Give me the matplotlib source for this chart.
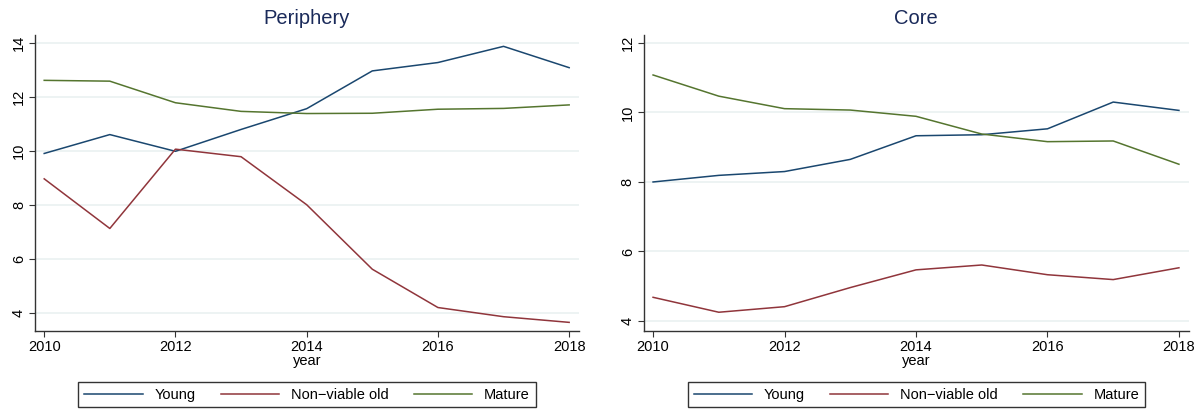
import matplotlib.pyplot as plt

plt.rcParams['font.family'] = ['Liberation Sans', 'DejaVu Sans']

years = [2010, 2011, 2012, 2013, 2014, 2015, 2016, 2017, 2018]

# Periphery
per_young = [9.91, 10.61, 9.99, 10.80, 11.57, 12.97, 13.28, 13.88, 13.09]
per_nonviable = [8.97, 7.13, 10.07, 9.79, 8.01, 5.62, 4.20, 3.86, 3.65]
per_mature = [12.62, 12.59, 11.79, 11.47, 11.39, 11.40, 11.55, 11.58, 11.71]

# Core
core_young = [8.00, 8.19, 8.30, 8.65, 9.33, 9.36, 9.53, 10.30, 10.06]
core_nonviable = [4.68, 4.25, 4.41, 4.96, 5.47, 5.61, 5.33, 5.19, 5.53]
core_mature = [11.08, 10.47, 10.11, 10.07, 9.89, 9.38, 9.16, 9.18, 8.51]

series_labels = ['Young', 'Non\u2212viable old', 'Mature']
colors = ['#1a476f', '#90353b', '#55752f']
title_color = '#1a2a5a'
grid_color = '#eaf1f1'


def draw_panel(ax, title, ys, ylim, yticks):
    for y, lab, c in zip(ys, series_labels, colors):
        ax.plot(years, y, color=c, lw=1.1, label=lab)
    ax.set_xlim(2009.86, 2018.15)
    ax.set_ylim(*ylim)
    ax.set_xticks([2010, 2012, 2014, 2016, 2018])
    ax.set_yticks(yticks)
    ax.set_yticklabels([str(t) for t in yticks], rotation=90, va='center')
    ax.grid(axis='y', color=grid_color, lw=1.2)
    ax.set_axisbelow(True)
    for s in ['top', 'right']:
        ax.spines[s].set_visible(False)
    for s in ['left', 'bottom']:
        ax.spines[s].set_color('#333333')
        ax.spines[s].set_linewidth(1.0)
    ax.tick_params(axis='both', labelsize=10.5, length=4.5, color='#333333', pad=2)
    ax.set_title(title, color=title_color, fontsize=14.5, pad=8)
    ax.set_xlabel('year', fontsize=10.5, labelpad=0)
    leg = ax.legend(loc='center', bbox_to_anchor=(0.5, -0.215), ncol=3,
                    fontsize=10.5, frameon=True, fancybox=False, handlelength=4.0,
                    columnspacing=1.75, handletextpad=0.8, borderpad=0.4)
    leg.get_frame().set_edgecolor('black')
    leg.get_frame().set_linewidth(1.0)


fig = plt.figure(figsize=(11.99, 4.12), dpi=100)
ax1 = fig.add_axes([0.0292, 0.1966, 0.4537, 0.7184])
ax2 = fig.add_axes([0.537, 0.1966, 0.4545, 0.7184])

draw_panel(ax1, 'Periphery', [per_young, per_nonviable, per_mature], (3.33, 14.3), [4, 6, 8, 10, 12, 14])
draw_panel(ax2, 'Core', [core_young, core_nonviable, core_mature], (3.71, 12.23), [4, 6, 8, 10, 12])

fig.savefig('out.png', dpi=100)
